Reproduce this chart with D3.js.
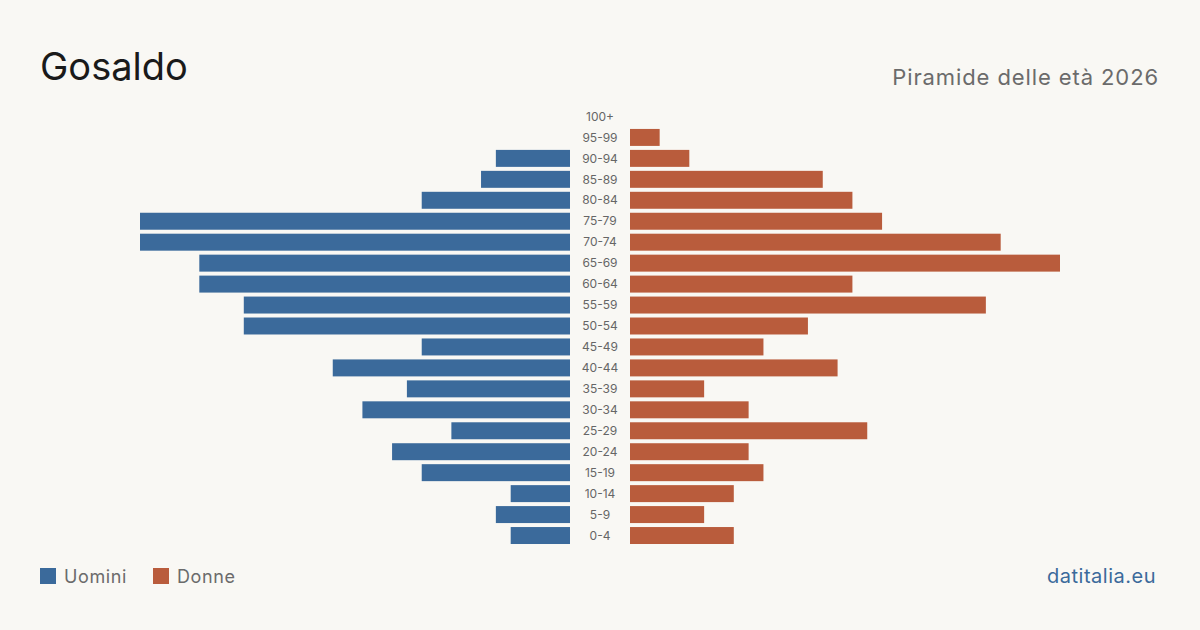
<!DOCTYPE html>
<html>
<head>
<meta charset="utf-8">
<script src="https://cdn.jsdelivr.net/npm/d3@7"></script>
<style>
  html, body { margin: 0; padding: 0; background: #f9f8f4; }
  svg { display: block; font-family: Inter, "Noto Sans", sans-serif; }
</style>
</head>
<body>
<div id="chart"></div>
<script>
// age groups, top to bottom
const ageGroups = ['100+','95-99','90-94','85-89','80-84','75-79','70-74','65-69','60-64','55-59','50-54','45-49','40-44','35-39','30-34','25-29','20-24','15-19','10-14','5-9','0-4'];
const men   = [0, 0, 5, 6, 10, 29, 29, 25, 25, 22, 22, 10, 16, 11, 14, 8, 12, 10, 4, 5, 4];
const women = [0, 2, 4, 13, 15, 17, 25, 29, 15, 24, 12, 9, 14, 5, 8, 16, 8, 9, 7, 5, 7];

const W = 1200, H = 630;
const svg = d3.select('#chart').append('svg').attr('width', W).attr('height', H);
svg.append('rect').attr('width', W).attr('height', H).attr('fill', '#f9f8f4');

const blue = '#3b6a9b', red = '#b95c3c';
const maxV = d3.max(men.concat(women));

const y = d3.scaleBand().domain(ageGroups).range([106, 546]).paddingInner(0.19).paddingOuter(0.095);
const xL = d3.scaleLinear().domain([0, maxV]).range([570, 140]);
const xR = d3.scaleLinear().domain([0, maxV]).range([630, 1060]);

svg.append('g').selectAll('rect')
  .data(ageGroups)
  .join('rect')
  .attr('x', (d, i) => xL(men[i]))
  .attr('width', (d, i) => xL(0) - xL(men[i]))
  .attr('y', d => y(d))
  .attr('height', y.bandwidth())
  .attr('fill', blue);

svg.append('g').selectAll('rect')
  .data(ageGroups)
  .join('rect')
  .attr('x', xR(0))
  .attr('width', (d, i) => xR(women[i]) - xR(0))
  .attr('y', d => y(d))
  .attr('height', y.bandwidth())
  .attr('fill', red);

svg.append('g').selectAll('text')
  .data(ageGroups)
  .join('text')
  .attr('x', 600)
  .attr('y', d => y(d) + y.bandwidth() / 2)
  .attr('dy', '0.35em')
  .attr('text-anchor', 'middle')
  .attr('font-size', 12)
  .attr('fill', '#666')
  .text(d => d);

// titles
svg.append('text').attr('x', 40).attr('y', 80)
  .attr('font-size', 38).attr('fill', '#1a1a1a').text('Gosaldo');
svg.append('text').attr('x', 1159).attr('y', 85).attr('text-anchor', 'end')
  .attr('font-size', 22).attr('letter-spacing', 0.9).attr('fill', '#6b6b6b').text('Piramide delle età 2026');

// legend
const legend = [{name: 'Uomini', color: blue, x: 40}, {name: 'Donne', color: red, x: 153}];
const lg = svg.append('g').selectAll('g').data(legend).join('g')
  .attr('transform', d => `translate(${d.x},568)`);
lg.append('rect').attr('width', 16).attr('height', 16).attr('fill', d => d.color);
lg.append('text').attr('x', 24).attr('y', 15).attr('font-size', 18).attr('letter-spacing', 0.6)
  .attr('fill', '#6b6b6b').text(d => d.name);

svg.append('text').attr('x', 1156).attr('y', 583).attr('text-anchor', 'end')
  .attr('font-size', 20).attr('letter-spacing', 0.5).attr('fill', '#3b6a9b').text('datitalia.eu');
</script>
</body>
</html>
